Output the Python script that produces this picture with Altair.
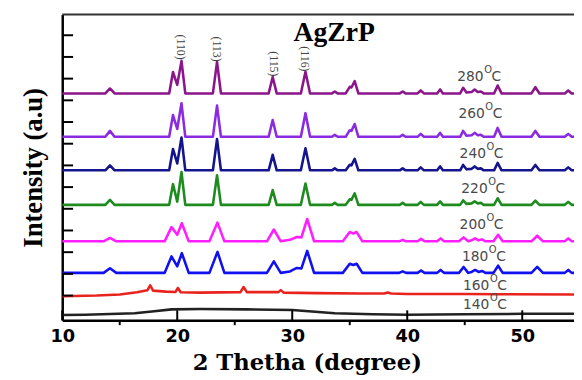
import altair as alt
import pandas as pd

# ---- data ----
SERIES = ["280", "260", "240", "220", "200", "180", "160", "140"]
COLORS = ["#8B168B", "#8A2BE2", "#14148C", "#1E8B1E", "#FF1EFF", "#1010F0", "#E8231E", "#222222"]
OFFSETS = {"280": 205, "260": 161, "240": 127, "220": 92, "200": 55, "180": 23}

X_SHARP = [10.0, 13.75, 14.15, 14.55, 19.3, 19.63, 20.0, 20.37, 20.7, 23.1, 23.46, 23.8,
           27.95, 28.3, 28.65, 30.75, 31.15, 31.55, 33.45, 33.7, 33.95, 34.65, 35.0, 35.15,
           35.43, 35.75, 39.35, 39.6, 39.85, 40.9, 41.17, 41.45, 42.6, 42.86, 43.1, 44.6,
           44.86, 45.15, 45.6, 45.86, 46.13, 46.4, 46.65, 47.55, 47.86, 48.2, 50.8, 51.14,
           51.5, 53.7, 54.0, 54.3, 54.5]
H_280 = [0, 0, 5, 0, 0, 21.7, 8.7, 33, 0, 0, 32, 0, 0, 16.7, 0, 0, 22, 0, 0, 2, 0, 0, 6.7, 6,
         12.4, 0, 0, 2, 0, 0, 3, 0, 0, 4, 0, 0, 5.7, 1, 1.5, 4, 1.5, 2, 0, 0, 8, 0, 0, 6.3, 0,
         0, 3, 0, 0]
H_260 = [0, 0, 6, 0, 0, 22, 8, 34, 0, 0, 31.7, 0, 0, 17, 0, 0, 24, 0, 0, 2, 0, 0, 6.7, 6,
         13, 0, 0, 2, 0, 0, 3, 0, 0, 4, 0, 0, 6, 1, 1.5, 4, 1.5, 2, 0, 0, 9, 0, 0, 6, 0,
         0, 3, 0, 0]
H_240 = [0, 0, 5, 0, 0, 21.7, 7, 33.3, 0, 0, 31.7, 0, 0, 15.7, 0, 0, 22.3, 0, 0, 2, 0, 0, 5.7, 5,
         11.7, 0, 0, 2, 0, 0, 3, 0, 0, 4, 0, 0, 5.5, 1, 1.5, 4, 1.5, 2, 0, 0, 7.5, 0, 0, 5.5, 0,
         0, 3, 0, 0]
H_220 = [0, 0, 5, 0, 0, 21, 3.3, 33.3, 0, 0, 30, 0, 0, 15, 0, 0, 21.7, 0, 0, 2, 0, 0, 5.7, 5,
         11.7, 0, 0, 2, 0, 0, 3, 0, 0, 3.5, 0, 0, 4.5, 1, 1.5, 3.5, 1.5, 2, 0, 0, 6.7, 0, 0, 4.3, 0,
         0, 3, 0, 0]

X_BROAD = [10.0, 13.6, 14.15, 14.7, 18.9, 19.5, 20.0, 20.4, 21.0, 22.8, 23.5, 24.1, 27.8, 28.4,
           29.0, 29.8, 30.4, 30.8, 31.3, 31.9, 34.4, 35.0, 35.3, 35.6, 36.1, 39.3, 39.6, 39.9,
           40.9, 41.2, 41.5, 42.6, 42.9, 43.2, 44.5, 44.9, 45.3, 45.6, 45.9, 46.2, 46.5, 46.8,
           47.5, 47.9, 48.3, 50.8, 51.3, 51.8, 53.7, 54.0, 54.3, 54.5]
H_200 = [0, 0, 3.4, 0, 0, 14.4, 6.7, 18.4, 0, 0, 19, 0, 0, 12, 0, 1.5, 4.4, 4, 22.7, 0, 0, 9.4, 8,
         9.4, 0, 0, 1.5, 0, 0, 2.5, 0, 0, 3, 0, 0, 4, 0, 1, 3, 1, 2, 0, 0, 6.7, 0, 0, 5.7, 0, 0, 3,
         0, 0]
H_180 = [0, 0, 4.7, 0, 0, 16.7, 6.7, 20, 0, 0, 21.3, 0, 0, 11.7, 0, 1.5, 5, 4.5, 22.3, 0, 0, 9.3, 8,
         9.3, 0, 0, 1.5, 0, 0, 2.5, 0, 0, 3, 0, 0, 6, 0, 1, 3, 1, 2, 0, 0, 7.3, 0, 0, 6, 0, 0, 3,
         0, 0]

X_160 = [10, 13, 15, 16.5, 17.4, 17.65, 17.9, 19.0, 19.85, 20.06, 20.3, 22, 25.5, 25.77, 26.05,
         28.8, 29.0, 29.25, 32, 36, 38.0, 38.3, 38.6, 40, 45, 48, 54.5]
Y_160 = [-0.7, 0, 1, 3.3, 5.3, 10.3, 5, 4, 3.7, 7.7, 3.3, 3, 3.5, 8.7, 3.5, 3.5, 5.5, 3, 2.5, 2,
         2, 3, 2, 1.5, 1.5, 1.3, 1]
X_140 = [10, 12, 16.3, 18, 19.5, 22, 26, 30, 33.7, 37, 40, 45, 50, 54.5]
Y_140 = [-19.7, -19.5, -18, -16, -14, -13.7, -14, -14.7, -18, -19, -19.5, -19, -18.5, -18.5]

TEMP_NUM = ["280", "260", "240", "220", "200", "180", "160", "140"]
TEMP_X = [46.3, 46.4, 46.5, 46.65, 46.5, 46.7, 46.8, 46.8]
TEMP_Y = [222, 184, 144, 108, 72, 39, 10, -10]

HKL = ["(110)", "(113)", "(115)", "(116)"]
HKL_X = [20.29, 23.43, 28.4, 31.14]
HKL_Y = [252, 250, 235, 240]

Y_TICKS = [0, 22, 44, 66, 88, 110, 132, 154, 176, 198, 220, 242, 264]
X_MAJOR = [10, 20, 30, 40, 50]
X_MINOR = [15, 25, 35, 45]

# ---- build tables ----
rows = []
for name, hs in [("280", H_280), ("260", H_260), ("240", H_240), ("220", H_220)]:
    for x, h in zip(X_SHARP, hs):
        rows.append({"x": x, "y": h + OFFSETS[name], "s": name})
for name, hs in [("200", H_200), ("180", H_180)]:
    for x, h in zip(X_BROAD, hs):
        rows.append({"x": x, "y": h + OFFSETS[name], "s": name})
for x, y in zip(X_160, Y_160):
    rows.append({"x": x, "y": y, "s": "160"})
for x, y in zip(X_140, Y_140):
    rows.append({"x": x, "y": y, "s": "140"})
curves = pd.DataFrame(rows)

W, H = 519, 310
XDOM = [10, 54.5]
YDOM = [-25, 285]

xs = alt.Scale(domain=XDOM, nice=False, zero=False)
ys = alt.Scale(domain=YDOM, nice=False, zero=False)

lines = alt.Chart(curves).mark_line(strokeWidth=2.6, strokeJoin="round", clip=True).encode(
    x=alt.X("x:Q", scale=xs, axis=alt.Axis(
        values=X_MAJOR, ticks=False, grid=False, domainColor="black", domainWidth=2.5,
        labelFont="DejaVu Sans", labelFontWeight="bold", labelFontSize=18, labelColor="black",
        labelPadding=8, labelFlush=False, title="2 Thetha (degree)", titleFont="DejaVu Serif",
        titleFontWeight="bold", titleFontSize=23, titleColor="black", titlePadding=6,
        titleX=248)),
    y=alt.Y("y:Q", scale=ys, axis=alt.Axis(
        ticks=False, labels=False, grid=False, domainColor="black", domainWidth=2.5,
        title="Intensity (a.u)", titleFont="Liberation Serif", titleFontWeight="bold",
        titleFontSize=27, titleColor="black", titlePadding=15)),
    color=alt.Color("s:N", scale=alt.Scale(domain=SERIES, range=COLORS), legend=None),
    detail="s:N",
)

ytick_df = pd.DataFrame({"y": Y_TICKS})
yticks = alt.Chart(ytick_df).mark_rule(color="black", strokeWidth=2).encode(
    y=alt.Y("y:Q", scale=ys), x=alt.value(0), x2=alt.value(11))

xmaj = alt.Chart(pd.DataFrame({"x": X_MAJOR})).mark_rule(color="black", strokeWidth=2).encode(
    x=alt.X("x:Q", scale=xs), y=alt.value(H - 10), y2=alt.value(H))
xmin = alt.Chart(pd.DataFrame({"x": X_MINOR})).mark_rule(color="black", strokeWidth=2).encode(
    x=alt.X("x:Q", scale=xs), y=alt.value(H), y2=alt.value(H + 5))

topline = alt.Chart(pd.DataFrame({"a": [0]})).mark_rule(color="#333333", strokeWidth=2).encode(
    x=alt.value(0), x2=alt.value(W), y=alt.value(0))

temp_df = pd.DataFrame({"x": TEMP_X, "y": TEMP_Y, "t": TEMP_NUM})
temp_base = alt.Chart(temp_df).encode(x=alt.X("x:Q", scale=xs), y=alt.Y("y:Q", scale=ys))
temp_num = temp_base.mark_text(
    font="DejaVu Sans", fontSize=14, color="#4a4a4a", align="right", baseline="middle", dx=4
).encode(text="t:N")
temp_o = temp_base.mark_text(
    font="DejaVu Sans", fontSize=10, color="#4a4a4a", align="left", baseline="middle",
    dx=4.5, dy=-7, text="O")
temp_c = temp_base.mark_text(
    font="DejaVu Sans", fontSize=14, color="#4a4a4a", align="left", baseline="middle",
    dx=12, text="C")

hkl = alt.Chart(pd.DataFrame({"x": HKL_X, "y": HKL_Y, "t": HKL})).mark_text(
    font="Liberation Serif", fontSize=12, color="#444444", angle=90, align="center",
    baseline="middle"
).encode(x=alt.X("x:Q", scale=xs), y=alt.Y("y:Q", scale=ys), text="t:N")

ttl = alt.Chart(pd.DataFrame({"x": [33.65], "y": [266], "t": ["AgZrP"]})).mark_text(
    font="Liberation Serif", fontSize=28, fontWeight="bold", color="black", align="center",
    baseline="middle"
).encode(x=alt.X("x:Q", scale=xs), y=alt.Y("y:Q", scale=ys), text="t:N")

chart = alt.layer(lines, yticks, xmaj, xmin, topline, temp_num, temp_o, temp_c, hkl, ttl).properties(
    width=W, height=H,
    autosize=alt.AutoSizeParams(type="none"),
    padding={"left": 55, "top": 4, "right": 0, "bottom": 58},
    background="white",
).configure_view(stroke=None)

chart.save("out.html", embed_options={"renderer": "svg", "actions": False})
